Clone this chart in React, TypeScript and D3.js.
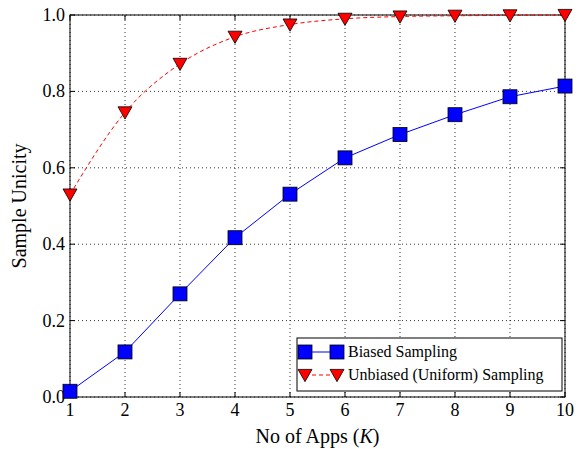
import React from "react";
import * as d3 from "d3";

const apps = [1, 2, 3, 4, 5, 6, 7, 8, 9, 10];
const biased = [0.015, 0.118, 0.27, 0.417, 0.531, 0.626, 0.687, 0.739, 0.786, 0.814];
const unbiased = [0.53, 0.745, 0.872, 0.943, 0.975, 0.99, 0.996, 0.998, 0.999, 1.0];
const xTicks = [1, 2, 3, 4, 5, 6, 7, 8, 9, 10];
const yTicks = [0, 0.2, 0.4, 0.6, 0.8, 1.0];

export default function App() {
  const W = 583, H = 449;
  const m = { l: 70, r: 18, t: 15, b: 52 };
  const x = d3.scaleLinear().domain([1, 10]).range([m.l, W - m.r]);
  const y = d3.scaleLinear().domain([0, 1]).range([H - m.b, m.t]);
  const font = "'Liberation Serif', serif";
  const lineB = d3.line<number>().x((_, i) => x(apps[i])).y((d) => y(d));
  const lineR = d3.line<number>().x((_, i) => x(apps[i])).y((d) => y(d)).curve(d3.curveMonotoneX);
  const tri = (cx: number, cy: number, s = 7) => `M${cx - s},${cy - s * 0.8}L${cx + s},${cy - s * 0.8}L${cx},${cy + s * 0.95}Z`;
  const lx = 297, ly = 338;
  return (
    <svg width={W} height={H} style={{ position: "absolute", left: 0, top: 0 }} fontFamily={font}>
      <rect width={W} height={H} fill="#fff" />
      {xTicks.map((t) => (
        <g key={"x" + t}>
          <line x1={x(t)} x2={x(t)} y1={y(0)} y2={y(1)} stroke="#000" strokeWidth={0.8} strokeDasharray="1,3" />
          <line x1={x(t)} x2={x(t)} y1={y(0)} y2={y(0) - 5} stroke="#000" />
          <line x1={x(t)} x2={x(t)} y1={y(1)} y2={y(1) + 5} stroke="#000" />
          <text x={x(t)} y={y(0) + 19} textAnchor="middle" fontSize={18}>{t}</text>
        </g>
      ))}
      {yTicks.map((t) => (
        <g key={"y" + t}>
          <line x1={x(1)} x2={x(10)} y1={y(t)} y2={y(t)} stroke="#000" strokeWidth={0.8} strokeDasharray="1,3" />
          <line x1={x(1)} x2={x(1) + 5} y1={y(t)} y2={y(t)} stroke="#000" />
          <line x1={x(10)} x2={x(10) - 5} y1={y(t)} y2={y(t)} stroke="#000" />
          <text x={x(1) - 5} y={y(t) + 6} textAnchor="end" fontSize={18}>{t.toFixed(1)}</text>
        </g>
      ))}
      <rect x={x(1)} y={y(1)} width={x(10) - x(1)} height={y(0) - y(1)} fill="none" stroke="#000" />
      <path d={lineR(unbiased) || ""} fill="none" stroke="red" strokeDasharray="4,3" />
      <path d={lineB(biased) || ""} fill="none" stroke="blue" />
      {biased.map((v, i) => (
        <rect key={"b" + i} x={x(apps[i]) - 7} y={y(v) - 7} width={14} height={14} fill="blue" stroke="#000" strokeWidth={0.8} />
      ))}
      {unbiased.map((v, i) => (
        <path key={"r" + i} d={tri(x(apps[i]), y(v))} fill="red" stroke="#000" strokeWidth={0.8} />
      ))}
      <rect x={lx} y={ly} width={265} height={53} fill="#fff" stroke="#000" />
      <line x1={lx + 8} x2={lx + 40} y1={ly + 14} y2={ly + 14} stroke="blue" />
      <rect x={lx + 1} y={ly + 7} width={14} height={14} fill="blue" stroke="#000" strokeWidth={0.8} />
      <rect x={lx + 33} y={ly + 7} width={14} height={14} fill="blue" stroke="#000" strokeWidth={0.8} />
      <text x={lx + 51} y={ly + 19} fontSize={16}>Biased Sampling</text>
      <line x1={lx + 8} x2={lx + 40} y1={ly + 37} y2={ly + 37} stroke="red" strokeDasharray="4,3" />
      <path d={tri(lx + 8, ly + 37)} fill="red" stroke="#000" strokeWidth={0.8} />
      <path d={tri(lx + 40, ly + 37)} fill="red" stroke="#000" strokeWidth={0.8} />
      <text x={lx + 51} y={ly + 42} fontSize={16}>Unbiased (Uniform) Sampling</text>
      <text x={(x(1) + x(10)) / 2} y={H - 6} textAnchor="middle" fontSize={20}>No of Apps (<tspan fontStyle="italic">K</tspan>)</text>
      <text transform={`translate(26,${(y(0) + y(1)) / 2}) rotate(-90)`} textAnchor="middle" fontSize={20}>Sample Unicity</text>
    </svg>
  );
}
